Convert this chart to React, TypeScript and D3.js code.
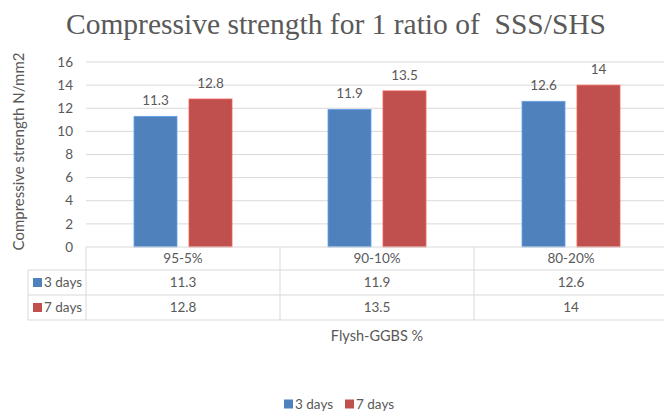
import { useEffect, useRef } from "react";
import * as d3 from "d3";

const categories = ["95-5%", "90-10%", "80-20%"];
const seriesNames = ["3 days", "7 days"];
const days3 = [11.3, 11.9, 12.6];
const days7 = [12.8, 13.5, 14];
const yTicks = [0, 2, 4, 6, 8, 10, 12, 14, 16];

const colors = ["#4F81BD", "#C0504D"];
const textColor = "#595959";
const gridColor = "#d9d9d9";
const font = "Lato, 'Open Sans', sans-serif";
const fs = 13.5;

export default function App() {
  const svgRef = useRef<SVGSVGElement>(null);

  useEffect(() => {
    if (!svgRef.current) return;
    const svg = d3.select(svgRef.current);
    svg.selectAll("*").remove();

    const width = 664;
    const height = 414;
    const plot = { left: 86, right: 668, top: 62, bottom: 247 };
    const rowH = [23, 25, 25];
    const tableLeft = 28;

    const x = d3.scaleBand<string>().domain(categories).range([plot.left, plot.right]);
    const y = d3.scaleLinear().domain([0, 16]).range([plot.bottom, plot.top]);
    const sub = d3
      .scaleBand<string>()
      .domain(seriesNames)
      .range([0, x.bandwidth()])
      .paddingInner(0.218)
      .paddingOuter(0.873);

    svg.attr("viewBox", `0 0 ${width} ${height}`);

    // title
    svg
      .append("text")
      .attr("x", 336)
      .attr("y", 34)
      .attr("text-anchor", "middle")
      .attr("font-family", "'Liberation Serif', 'Times New Roman', serif")
      .attr("font-size", 29.5)
      .attr("fill", textColor)
      .style("white-space", "pre")
      .text("Compressive strength for 1 ratio of  SSS/SHS");

    // gridlines
    svg
      .append("g")
      .selectAll("line")
      .data(yTicks.slice(1))
      .enter()
      .append("line")
      .attr("x1", plot.left)
      .attr("x2", plot.right)
      .attr("y1", (d) => y(d))
      .attr("y2", (d) => y(d))
      .attr("stroke", gridColor)
      .attr("stroke-width", 1);

    // y tick labels
    svg
      .append("g")
      .selectAll("text")
      .data(yTicks)
      .enter()
      .append("text")
      .attr("x", 73)
      .attr("y", (d) => y(d))
      .attr("dy", "0.35em")
      .attr("text-anchor", "end")
      .attr("font-family", font)
      .attr("font-size", fs)
      .attr("fill", textColor)
      .text((d) => d);

    // y title
    svg
      .append("text")
      .attr("transform", `translate(24,${(plot.top + plot.bottom) / 2 - 3}) rotate(-90)`)
      .attr("text-anchor", "middle")
      .attr("font-family", font)
      .attr("font-size", 15)
      .attr("fill", textColor)
      .text("Compressive strength N/mm2");

    const series = [days3, days7];

    // bars
    series.forEach((vals, si) => {
      const g = svg.append("g");
      g.selectAll("rect")
        .data(vals)
        .enter()
        .append("rect")
        .attr("x", (_, i) => x(categories[i])! + sub(seriesNames[si])!)
        .attr("y", (d) => y(d))
        .attr("width", sub.bandwidth())
        .attr("height", (d) => y(0) - y(d))
        .attr("fill", colors[si])
        .attr("stroke", d3.color(colors[si])!.brighter(0.6).formatHex())
        .attr("stroke-width", 0.8);
      g.selectAll("text")
        .data(vals)
        .enter()
        .append("text")
        .attr("x", (_, i) => x(categories[i])! + sub(seriesNames[si])! + sub.bandwidth() / 2)
        .attr("y", (d) => y(d) - 11)
        .attr("text-anchor", "middle")
        .attr("font-family", font)
        .attr("font-size", fs)
        .attr("fill", textColor)
        .text((d) => d);
    });

    // data table
    const t = svg.append("g");
    const rowY = [plot.bottom];
    rowH.forEach((h) => rowY.push(rowY[rowY.length - 1] + h));

    t.append("line")
      .attr("x1", plot.left)
      .attr("x2", plot.right)
      .attr("y1", rowY[0])
      .attr("y2", rowY[0])
      .attr("stroke", gridColor);
    rowY.slice(1).forEach((ry) => {
      t.append("line")
        .attr("x1", tableLeft)
        .attr("x2", plot.right)
        .attr("y1", ry)
        .attr("y2", ry)
        .attr("stroke", gridColor);
    });
    t.append("line")
      .attr("x1", tableLeft)
      .attr("x2", tableLeft)
      .attr("y1", rowY[1])
      .attr("y2", rowY[3])
      .attr("stroke", gridColor);
    categories.forEach((c) => {
      t.append("line")
        .attr("x1", x(c)!)
        .attr("x2", x(c)!)
        .attr("y1", rowY[0])
        .attr("y2", rowY[3])
        .attr("stroke", gridColor);
    });

    const cellText = (sel: d3.Selection<SVGGElement, unknown, null, undefined>) =>
      sel.attr("font-family", font).attr("font-size", fs).attr("fill", textColor);

    // header row
    t.append("g")
      .call(cellText)
      .selectAll("text")
      .data(categories)
      .enter()
      .append("text")
      .attr("x", (d) => x(d)! + x.bandwidth() / 2)
      .attr("y", (rowY[0] + rowY[1]) / 2)
      .attr("dy", "0.35em")
      .attr("text-anchor", "middle")
      .text((d) => d);

    series.forEach((vals, si) => {
      const cy = (rowY[si + 1] + rowY[si + 2]) / 2;
      const g = t.append("g").call(cellText);
      g.append("rect")
        .attr("x", tableLeft + 5)
        .attr("y", cy - 4.5)
        .attr("width", 9)
        .attr("height", 9)
        .attr("fill", colors[si]);
      g.append("text")
        .attr("x", tableLeft + 16)
        .attr("y", cy)
        .attr("dy", "0.35em")
        .text(seriesNames[si]);
      g.selectAll("text.v")
        .data(vals)
        .enter()
        .append("text")
        .attr("class", "v")
        .attr("x", (_, i) => x(categories[i])! + x.bandwidth() / 2)
        .attr("y", cy)
        .attr("dy", "0.35em")
        .attr("text-anchor", "middle")
        .text((d) => d);
    });

    // x title
    svg
      .append("text")
      .attr("x", 377)
      .attr("y", 336)
      .attr("dy", "0.35em")
      .attr("text-anchor", "middle")
      .attr("font-family", font)
      .attr("font-size", 14.5)
      .attr("fill", textColor)
      .text("Flysh-GGBS %");

    // legend
    const legendX = [284, 345];
    seriesNames.forEach((name, si) => {
      const lg = svg.append("g").attr("transform", `translate(${legendX[si]},404)`);
      lg.append("rect")
        .attr("x", 0)
        .attr("y", -4.5)
        .attr("width", 9)
        .attr("height", 9)
        .attr("fill", colors[si]);
      lg.append("text")
        .attr("x", 11)
        .attr("y", 0)
        .attr("dy", "0.35em")
        .attr("font-family", font)
        .attr("font-size", fs)
        .attr("fill", textColor)
        .text(name);
    });
  }, []);

  return (
    <div style={{ position: "fixed", left: 0, top: 0, width: 664, height: 414, background: "#fff" }}>
      <svg ref={svgRef} width={664} height={414} />
    </div>
  );
}
